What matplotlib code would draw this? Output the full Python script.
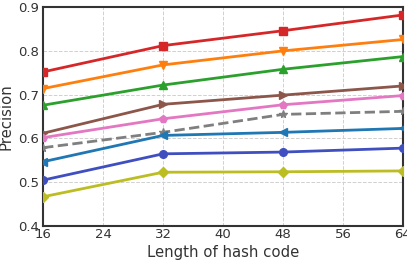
import matplotlib
matplotlib.use("Agg")
import matplotlib.pyplot as plt

bits = [16, 32, 48, 64]
red = [0.752, 0.812, 0.846, 0.882]
orange = [0.714, 0.768, 0.800, 0.826]
green = [0.676, 0.722, 0.758, 0.787]
brown = [0.612, 0.678, 0.699, 0.720]
pink = [0.602, 0.645, 0.677, 0.698]
gray = [0.579, 0.614, 0.655, 0.662]
blue = [0.547, 0.607, 0.614, 0.623]
navy = [0.505, 0.565, 0.569, 0.578]
olive = [0.467, 0.523, 0.524, 0.526]
xticks = [16, 24, 32, 40, 48, 56, 64]
yticks = [0.4, 0.5, 0.6, 0.7, 0.8, 0.9]

series = [
    (red, "#d62728", "s", "-"),
    (orange, "#ff7f0e", "v", "-"),
    (green, "#2ca02c", "^", "-"),
    (brown, "#8c564b", ">", "-"),
    (pink, "#e377c2", "p", "-"),
    (gray, "#7f7f7f", "*", "--"),
    (blue, "#1f77b4", "<", "-"),
    (navy, "#3f4fbf", "o", "-"),
    (olive, "#bcbd22", "D", "-"),
]

fig = plt.figure(figsize=(4.07, 2.62), dpi=100)
ax = fig.add_axes([0.106, 0.137, 0.884, 0.836])
for vals, c, m, ls in series:
    ax.plot(bits, vals, color=c, marker=m, linestyle=ls, linewidth=2,
            markersize=5.5, zorder=3)

ax.set_xlim(16, 64)
ax.set_ylim(0.4, 0.9)
ax.set_xticks(xticks)
ax.set_yticks(yticks)
ax.set_yticklabels([f"{v:.1f}" for v in yticks])
ax.grid(True, color="#d0d0d0", linestyle="--", linewidth=0.7)
ax.set_axisbelow(True)
for s in ax.spines.values():
    s.set_color("#333333")
    s.set_linewidth(1.5)
ax.tick_params(length=0, labelsize=9.5, labelcolor="#333333")
ax.tick_params(axis="x", pad=1.5)
ax.tick_params(axis="y", pad=3)
ax.set_xlabel("Length of hash code", fontsize=10.7, color="#333333", labelpad=3)
ax.set_ylabel("Precision", fontsize=10.7, color="#333333", labelpad=3)
fig.savefig("out.png", dpi=100)
